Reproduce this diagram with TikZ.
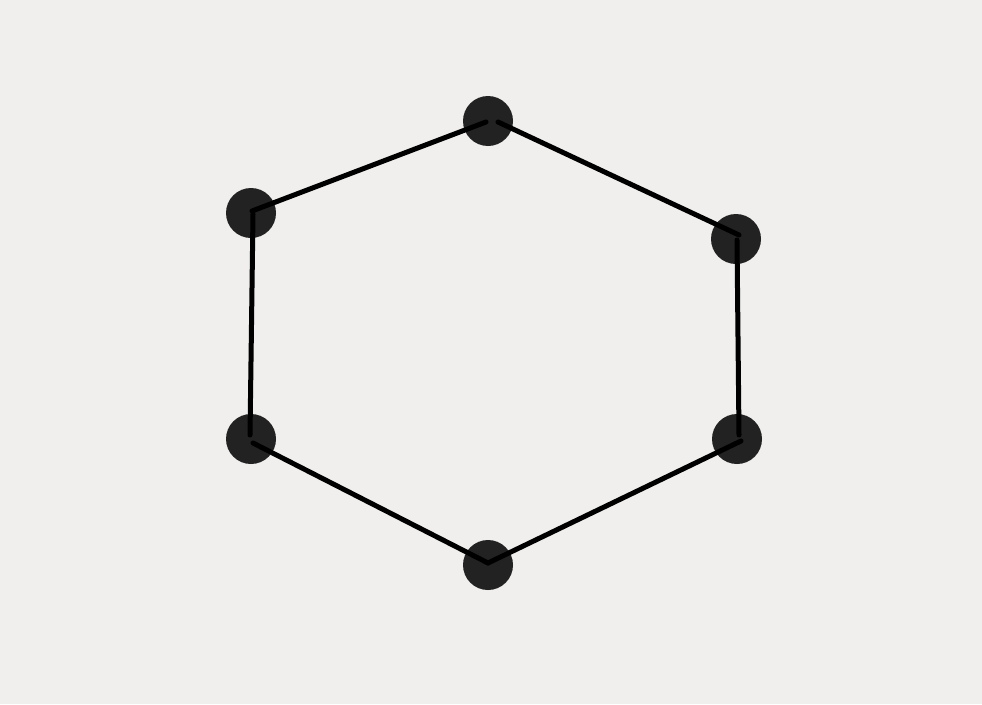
\documentclass[tikz,border=0pt]{standalone}
\usetikzlibrary{calc}
\definecolor{bg}{HTML}{F0EFED}
\definecolor{dot}{HTML}{222222}
\begin{document}
\begin{tikzpicture}[x=1pt,y=-1pt,
  vtx/.style={circle,fill=dot,minimum size=50pt,inner sep=0pt},
  edge/.style={line width=5pt,line cap=round,line join=round,black}]
\fill[bg] (0,0) rectangle (982,704);
\useasboundingbox (0,0) rectangle (982,704);
\node[vtx] (t)  at (488,121) {};
\node[vtx] (ul) at (251,213) {};
\node[vtx] (ur) at (736,239) {};
\node[vtx] (ll) at (251,439) {};
\node[vtx] (lr) at (737,439) {};
\node[vtx] (b)  at (488,565) {};
\coordinate (t1) at ($(t)+(-2,1)$);
\coordinate (t2) at ($(t)+(10,1)$);
\coordinate (ul1) at ($(ul)+(1,-2)$);
\coordinate (ul2) at ($(ul)+(2,1)$);
\coordinate (ur1) at ($(ur)+(3,-4)$);
\coordinate (ur2) at ($(ur)+(1,1)$);
\coordinate (lr1) at ($(lr)+(2,-4)$);
\coordinate (lr2) at ($(lr)+(4,2)$);
\coordinate (b1) at ($(b)+(0,-2)$);
\coordinate (ll1) at ($(ll)+(2,4)$);
\coordinate (ll2) at ($(ll)+(-1,-4)$);
\draw[edge] (ul1) -- (t1);
\draw[edge] (t2) -- (ur1);
\draw[edge] (ur2) -- (lr1);
\draw[edge] (lr2) -- (b1);
\draw[edge] (b1) -- (ll1);
\draw[edge] (ll2) -- (ul2);
\end{tikzpicture}
\end{document}
